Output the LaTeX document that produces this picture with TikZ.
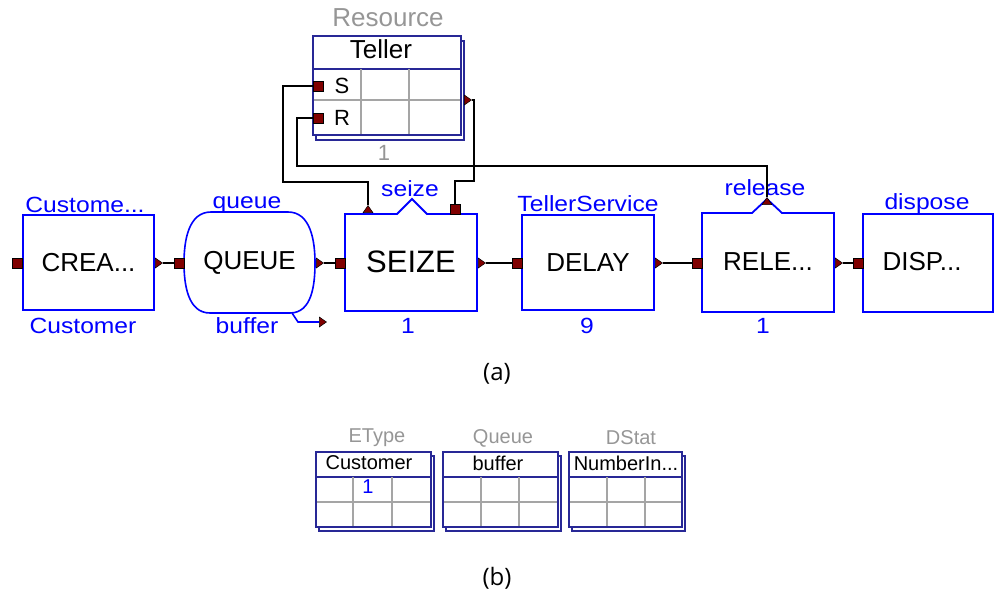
\documentclass[tikz,border=0pt]{standalone}
\usepackage{fontspec}
\setmainfont{Liberation Sans}
\newfontfamily\lblfont[FakeStretch=1.12]{Liberation Sans}
\newfontfamily\capfont{Open Sans}
\usetikzlibrary{shapes.geometric}
\definecolor{qblue}{RGB}{0,0,255}
\definecolor{navy}{RGB}{40,40,150}
\definecolor{gridgray}{RGB}{165,165,165}
\definecolor{txtgray}{RGB}{150,150,150}
\definecolor{portred}{RGB}{128,0,0}
\tikzset{
  blk/.style={draw=qblue, line width=1.8pt, fill=white},
  lbl/.style={text=qblue, font=\lblfont\fontsize{22}{24}\selectfont, inner sep=0pt},
  btxt/.style={font=\fontsize{26}{28}\selectfont, inner sep=0pt},
  ttxt/.style={font=\fontsize{20}{22}\selectfont, inner sep=0pt},
  gtxt/.style={font=\fontsize{20}{22}\selectfont, inner sep=0pt, text=txtgray},
  psq/.style={draw=black, fill=portred, minimum size=10pt, inner sep=0pt, line width=0.6pt, rectangle},
  ptri/.style={draw=black, fill=portred, isosceles triangle, isosceles triangle apex angle=70, minimum size=7pt, inner sep=0pt, line width=0.5pt},
  conn/.style={draw=black, line width=1.8pt},
  tframe/.style={draw=navy, line width=1.6pt, fill=white},
  tgrid/.style={draw=gridgray, line width=1.6pt},
  tsep/.style={draw=navy, line width=1.6pt},
  captxt/.style={font=\capfont\fontsize{24}{26}\selectfont, inner sep=0pt}
}
\begin{document}
\begin{tikzpicture}[x=1pt,y=-1pt]
\useasboundingbox (0,0) rectangle (995,597);

% ---------- Resource table ----------
\draw[tframe] (316,41) rectangle (464,140);
\draw[tframe] (313,36) rectangle (461,135);
\draw[tsep] (313,69) -- (461,69);
\draw[tgrid] (361,69) -- (361,134) (409,69) -- (409,134) (314,100) -- (460,100);
\node[font=\fontsize{26}{28}\selectfont, text=txtgray, inner sep=0pt] (resl) at (388,18) {Resource};
\node[btxt] (teller) at (381,49) {Teller};
\node[font=\fontsize{22}{24}\selectfont, inner sep=0pt] (sl) at (342,86) {S};
\node[font=\fontsize{22}{24}\selectfont, inner sep=0pt] (rl) at (342,118) {R};
\node[font=\fontsize{22}{24}\selectfont, text=txtgray, inner sep=0pt] (one0) at (384,153) {1};
\node[psq] (pS) at (318,86) {};
\node[psq] (pR) at (318,118) {};
\node[ptri] (pRes) at (467,100) {};

% ---------- main row ----------
% CREATE
\node[blk, minimum width=131pt, minimum height=95pt] (create) at (88.5,262.5) {};
\node[btxt] at (create.center) {CREA...};
\node[lbl] (createtop) at (85,205) {Custome...};
\node[lbl] (createbot) at (83,326) {Customer};
\node[psq] (cIn) at (17,263) {};
\node[ptri] (cOut) at (158,263) {};

% QUEUE
\coordinate (queue) at (249.5,262.5);
\draw[draw=qblue, line width=1.6pt, fill=white]
  (211,212) -- (288,212) to[out=0,in=90] (315,263) to[out=-90,in=0] (290,313)
  -- (210,313) to[out=180,in=-90] (184,263) to[out=90,in=180] (211,212);
\node[btxt] at (queue) {QUEUE};
\node[lbl] (queuetop) at (247,205) {queue};
\node[lbl] (queuebot) at (247,326) {buffer};
\node[psq] (qIn) at (179,263) {};
\node[ptri] (qOut) at (319,263) {};
\node[ptri] (qBuf) at (322,322) {};
\coordinate (qBufStart) at (292,313);
\draw[draw=qblue, line width=1.6pt] (qBufStart) -- (298,322) -- (qBuf.west);

% SEIZE
\node[minimum width=132pt, minimum height=97pt, inner sep=0pt] (seize) at (411,262.5) {};
\draw[blk] (345,214) -- (397,214) -- (412,199) -- (427,214) -- (477,214) -- (477,311) -- (345,311) -- cycle;
\node[font=\fontsize{31}{33}\selectfont, inner sep=0pt] at (411,262) {SEIZE};
\node[lbl] (seizetop) at (410,189) {seize};
\node[lbl] (seizebot) at (408,326) {1};
\node[psq] (sIn) at (340,263) {};
\node[ptri] (sOut) at (481,263) {};
\node[ptri, shape border rotate=90] (sTopT) at (368,210) {};
\node[psq] (sTopS) at (455,209) {};

% DELAY
\node[blk, minimum width=132pt, minimum height=95pt] (delay) at (588,262.5) {};
\node[btxt] at (delay.center) {DELAY};
\node[lbl] (delaytop) at (588,204) {TellerService};
\node[lbl] (delaybot) at (587,326) {9};
\node[psq] (dIn) at (517,263) {};
\node[ptri] (dOut) at (658,263) {};

% RELEASE
\node[minimum width=132pt, minimum height=99pt, inner sep=0pt] (release) at (768,262.5) {};
\draw[blk] (702,213) -- (752,213) -- (767,199) -- (782,213) -- (834,213) -- (834,312) -- (702,312) -- cycle;
\node[btxt] at (768,262) {RELE...};
\node[lbl] (releasetop) at (765,188) {release};
\node[lbl] (releasebot) at (763,326) {1};
\node[psq] (rIn) at (697,263) {};
\node[ptri] (rOut) at (838,263) {};
\node[ptri, shape border rotate=90] (rTopT) at (767,202) {};

% DISPOSE
\node[blk, minimum width=130pt, minimum height=98pt] (dispose) at (928,263) {};
\node[btxt] at (922,262) {DISP...};
\node[lbl] (disposetop) at (927,204) {dispose};
\node[psq] (xIn) at (858,263) {};

% main connectors
\draw[conn] (cOut.east) -- (qIn.west);
\draw[conn] (qOut.east) -- (sIn.west);
\draw[conn] (sOut.east) -- (dIn.west);
\draw[conn] (dOut.east) -- (rIn.west);
\draw[conn] (rOut.east) -- (xIn.west);

% resource connectors
\draw[conn] (pS.west) -- (283,86) |- (368,182) -- (sTopT.north);
\draw[conn] (pR.west) -- (297,118) |- (767,166) -- (rTopT.north);
\draw[conn] (pRes.east) -- (474,100) |- (455,181) -- (sTopS.north);

\node[captxt] (capa) at (497,374) {(a)};

% ---------- (b) tables ----------
\foreach \x/\w/\ca/\cb in {316/115/353/392, 443/115/481/519, 569/113/607/645}{
  \draw[tframe] (\x+3,456) rectangle (\x+\w+3,531);
  \draw[tframe] (\x,452) rectangle (\x+\w,527);
  \draw[tsep] (\x,477) -- (\x+\w,477);
  \draw[tgrid] (\ca,477) -- (\ca,526) (\cb,477) -- (\cb,526) (\x+1,502) -- (\x+\w-1,502);
}
\node[gtxt] (et) at (377,438) {EType};
\node[gtxt] (qt) at (503,438) {Queue};
\node[gtxt] (dt) at (631,438) {DStat};
\node[ttxt] (t1h) at (369,463) {Customer};
\node[ttxt] (t2h) at (498,463) {buffer};
\node[ttxt] (t3h) at (626,463) {NumberIn...};
\node[ttxt, text=qblue] (t1v) at (368,487) {1};

\node[captxt] (capb) at (497,578) {(b)};
\end{tikzpicture}
\end{document}
